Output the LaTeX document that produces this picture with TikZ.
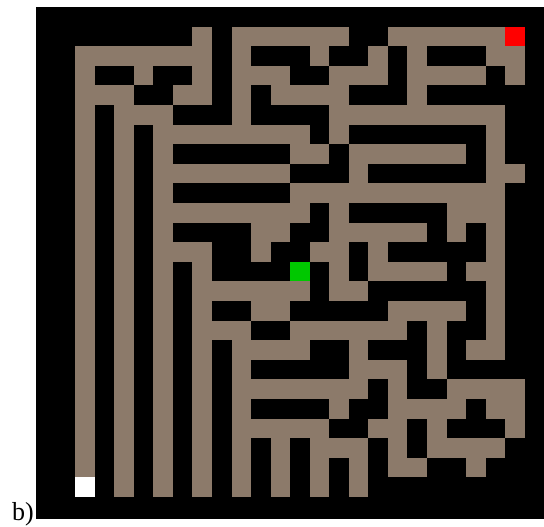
\documentclass[tikz,border=0pt]{standalone}
\usepackage{fontspec}
\setmainfont{Liberation Serif}
\usetikzlibrary{calc}
\definecolor{pathbrown}{RGB}{140,122,106}
\definecolor{goalred}{RGB}{255,0,0}
\definecolor{agentgreen}{RGB}{0,200,0}

\begin{document}
\begin{tikzpicture}[x=1pt,y=-1pt]

\useasboundingbox (0,0) rectangle (544,527);
\fill[white] (0,0) rectangle (544,527);

% ----- helper: one maze cell at (col,row) -----
% \Cell{col}{row}{colour}
\def\cellW{19.55}\def\cellH{19.6}
\newcommand{\Cell}[3]{%
  \fill[#3] ({36+#1*\cellW},{7+#2*\cellH}) rectangle ({36+(#1+1)*\cellW},{7+(#2+1)*\cellH});
}

% walls (whole board)
\fill[black] (36,7) rectangle ({36+26*\cellW},519);

% free cells, row by row
\foreach \rw/\cols in {
  1/{8,10,11,12,13,14,15,18,19,20,21,22,23},
  2/{2,3,4,5,6,7,8,10,14,17,19,23,24},
  3/{2,5,8,10,11,12,15,16,17,19,20,21,22,24},
  4/{2,3,4,7,8,10,12,13,14,15,19},
  5/{2,4,5,6,10,15,16,17,18,19,20,21,22,23},
  6/{2,4,6,7,8,9,10,11,12,13,15,23},
  7/{2,4,6,13,14,16,17,18,19,20,21,23},
  8/{2,4,6,7,8,9,10,11,12,16,23,24},
  9/{2,4,6,13,14,15,16,17,18,19,20,21,22,23},
  10/{2,4,6,7,8,9,10,11,12,13,15,21,22,23},
  11/{2,4,6,11,12,15,16,17,18,19,21,23},
  12/{2,4,6,7,8,11,14,15,17,23},
  13/{2,4,6,8,15,17,18,19,20,22,23},
  14/{2,4,6,8,9,10,11,12,13,15,16,23},
  15/{2,4,6,8,11,12,18,19,20,21,23},
  16/{2,4,6,8,9,10,13,14,15,16,17,18,20,23},
  17/{2,4,6,8,10,11,12,13,16,20,22,23},
  18/{2,4,6,8,10,16,17,18,20},
  19/{2,4,6,8,10,11,12,13,14,15,16,18,21,22,23,24},
  20/{2,4,6,8,10,15,18,19,20,21,23,24},
  21/{2,4,6,8,10,11,12,13,14,17,18,20,24},
  22/{2,4,6,8,10,12,14,15,16,18,20,21,22,23},
  23/{2,4,6,8,10,12,14,16,18,19,22},
  24/{4,6,8,10,12,14,16}} {
  \foreach \col in \cols {
    \Cell{\col}{\rw}{pathbrown}
  }
}

% start, agent and goal
\Cell{2}{24}{white}
\Cell{13}{13}{agentgreen}
\Cell{24}{1}{goalred}

% panel label
\node[anchor=base west,inner sep=0pt,font=\fontsize{26}{28}\selectfont] (panel) at (12,520) {b)};

\end{tikzpicture}
\end{document}
